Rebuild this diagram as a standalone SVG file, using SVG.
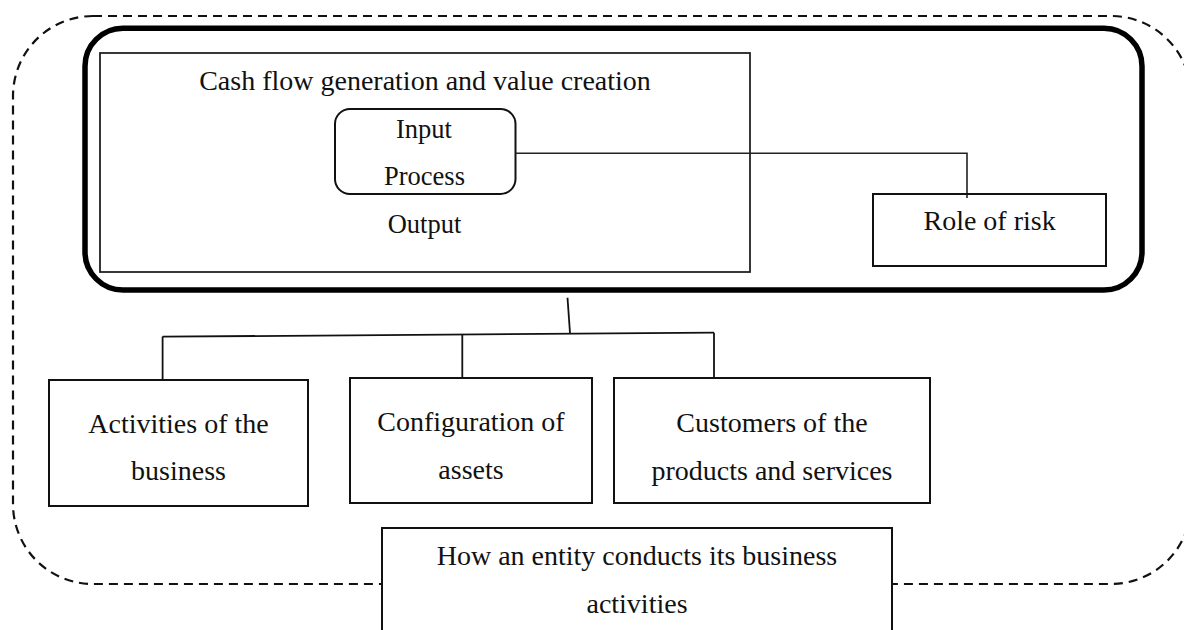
<svg xmlns="http://www.w3.org/2000/svg" width="1184" height="630" viewBox="0 0 1184 630">
<style>
text{font-family:"Liberation Serif","Times New Roman",serif;fill:#111;text-anchor:middle;}
.t28{font-size:28px;}
.t26{font-size:26.5px;}
.box{fill:#fff;stroke:#111;stroke-width:2;}
.thin{fill:none;stroke:#222;stroke-width:1.6;}
.conn{fill:none;stroke:#111;stroke-width:1.8;}
</style>
<rect width="1184" height="630" fill="#fff"/>
<g id="boundary">
<rect x="13" y="16" width="1178" height="568" rx="80" ry="80" fill="none" stroke="#111" stroke-width="2.2" stroke-dasharray="9 6"/>
</g>
<g id="business-model">
<rect x="85" y="28.3" width="1057" height="261.7" rx="38" ry="38" fill="none" stroke="#000" stroke-width="5.5"/>
</g>
<g id="cash-flow">
<rect x="100" y="53" width="650" height="219" fill="none" stroke="#222" stroke-width="1.8"/>
<text class="t28" x="425" y="90">Cash flow generation and value creation</text>
<text class="t26" x="424.5" y="232.7">Output</text>
</g>
<g id="input-process">
<rect x="335" y="109" width="180.5" height="85" rx="15" ry="15" class="box"/>
<text class="t26" x="424" y="138">Input</text>
<text class="t26" x="424.5" y="185">Process</text>
</g>
<g id="connectors">
<polyline class="thin" points="515.5,153.3 967,153.3 967,198"/>
<polyline class="conn" points="567.5,297.7 570,333"/>
<polyline class="conn" points="162.6,336.7 714,332.7"/>
<polyline class="conn" points="162.6,336.5 162.6,380"/>
<polyline class="conn" points="462.3,334.5 462.3,378"/>
<polyline class="conn" points="714,332.7 714,382.7"/>
</g>
<g id="role-of-risk">
<rect x="873" y="194" width="233" height="72" class="box" style="fill:none"/>
<text class="t28" x="989.6" y="230">Role of risk</text>
</g>
<g id="activities">
<rect x="49" y="380" width="259" height="126" class="box"/>
<text class="t28" x="178.5" y="433">Activities of the</text>
<text class="t28" x="178.5" y="480">business</text>
</g>
<g id="configuration">
<rect x="350" y="378" width="242" height="125" class="box"/>
<text class="t28" x="471" y="431">Configuration of</text>
<text class="t28" x="471" y="479">assets</text>
</g>
<g id="customers">
<rect x="614" y="378" width="316" height="125" class="box"/>
<text class="t28" x="772" y="432">Customers of the</text>
<text class="t28" x="772" y="480">products and services</text>
</g>
<g id="how-entity">
<rect x="382" y="528" width="510" height="120" class="box"/>
<text class="t28" x="637" y="565">How an entity conducts its business</text>
<text class="t28" x="637" y="613">activities</text>
</g>
</svg>
